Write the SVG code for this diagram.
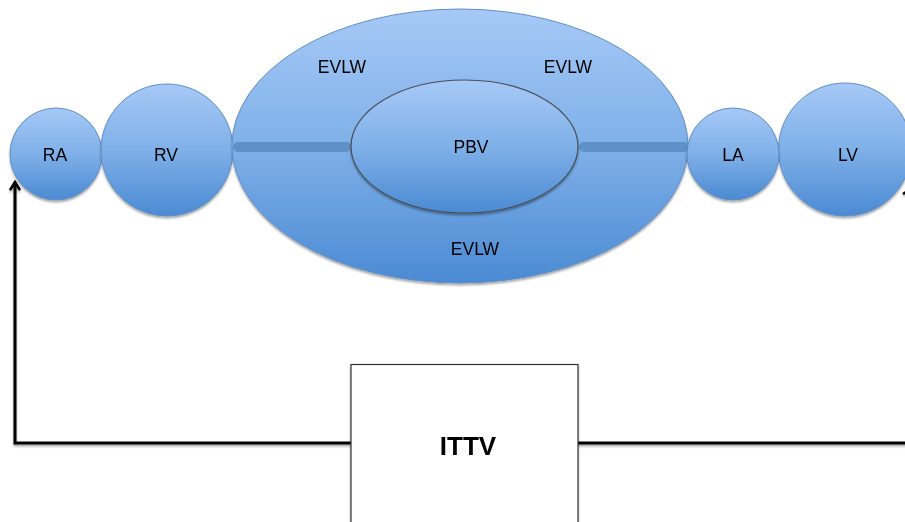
<svg xmlns="http://www.w3.org/2000/svg" width="905" height="522" viewBox="0 0 905 522">
  <defs>
    <linearGradient id="blue" x1="0" y1="0" x2="0" y2="1">
      <stop offset="0" stop-color="#a6c9f7"/>
      <stop offset="0.5" stop-color="#7fb0e8"/>
      <stop offset="1" stop-color="#4b8ad3"/>
    </linearGradient>
    <filter id="soft" x="-10%" y="-10%" width="120%" height="125%">
      <feGaussianBlur in="SourceAlpha" stdDeviation="1.2"/>
      <feOffset dx="0" dy="1.5" result="b"/>
      <feComponentTransfer><feFuncA type="linear" slope="0.35"/></feComponentTransfer>
      <feMerge><feMergeNode/><feMergeNode in="SourceGraphic"/></feMerge>
    </filter>
    <marker id="open" viewBox="0 0 12 12" refX="10" refY="6" markerWidth="12" markerHeight="12" markerUnits="userSpaceOnUse" orient="auto">
      <path d="M2 1 L10 6 L2 11" fill="none" stroke="#000" stroke-width="2.6" stroke-linejoin="miter"/>
    </marker>
  </defs>
  <style>
    .chamber { fill: url(#blue); stroke: #5f8fc6; stroke-width: 1; }
    .lbl { font-family: "Liberation Sans", Arial, sans-serif; font-size: 17.5px; fill: #000; text-anchor: middle; }
    .bar { stroke: #5a8ec4; stroke-width: 10; stroke-linecap: round; opacity: 0.9; }
    .link { fill: none; stroke: #000; stroke-width: 3; }
  </style>

  <rect width="905" height="522" fill="#fff"/>

  <!-- circulation loop through the thorax -->
  <g id="connectors" filter="url(#soft)">
    <path class="link" d="M351 443 L15 443 L15 182" marker-end="url(#open)"/>
    <path class="link" d="M578 443 L912 443 L912 192"/>
    <path d="M903 194 L912 188" fill="none" stroke="#000" stroke-width="2.6"/>
  </g>

  <g id="RA" filter="url(#soft)">
    <circle class="chamber" cx="56" cy="154" r="46"/>
    <text class="lbl" x="55" y="161">RA</text>
  </g>

  <g id="RV" filter="url(#soft)">
    <circle class="chamber" cx="167" cy="150" r="66"/>
    <text class="lbl" x="166" y="161">RV</text>
  </g>

  <g id="LV" filter="url(#soft)">
    <circle class="chamber" cx="845" cy="149.5" r="66.5"/>
    <text class="lbl" x="848" y="161">LV</text>
  </g>

  <g id="EVLW" filter="url(#soft)">
    <ellipse class="chamber" cx="460" cy="146" rx="228" ry="137"/>
    <line class="bar" x1="238" y1="147" x2="346" y2="147"/>
    <line class="bar" x1="584" y1="147" x2="684" y2="147"/>
    <text class="lbl" x="342" y="73">EVLW</text>
    <text class="lbl" x="568" y="73">EVLW</text>
    <text class="lbl" x="475" y="255">EVLW</text>
  </g>

  <g id="PBV" filter="url(#soft)">
    <ellipse cx="464.5" cy="146.5" rx="113.5" ry="66.5" fill="url(#blue)" stroke="#4a4f57" stroke-width="1.2"/>
    <text class="lbl" x="471" y="153">PBV</text>
  </g>

  <g id="LA" filter="url(#soft)">
    <circle class="chamber" cx="733" cy="154" r="46"/>
    <text class="lbl" x="733" y="161">LA</text>
  </g>

  <g id="ITTV" filter="url(#soft)">
    <rect x="351" y="364.5" width="227" height="170" fill="#fff" stroke="#333" stroke-width="1.2"/>
    <text x="468" y="455" font-family="'Liberation Sans', Arial, sans-serif" font-size="26" font-weight="bold" text-anchor="middle">ITTV</text>
  </g>
</svg>
